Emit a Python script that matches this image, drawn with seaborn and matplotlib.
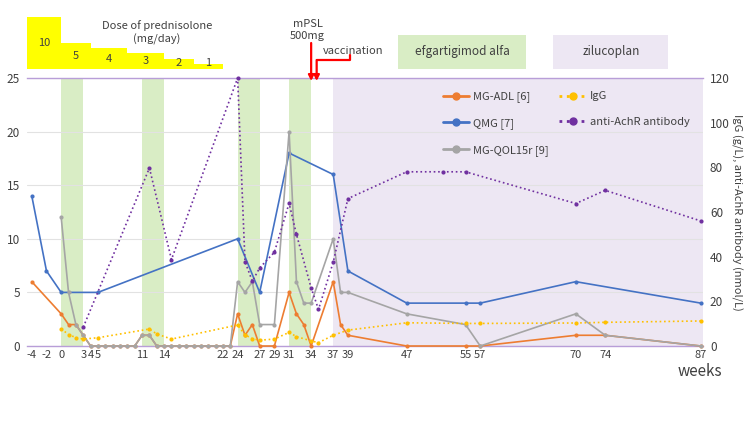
import matplotlib
matplotlib.use("Agg")
import matplotlib.pyplot as plt
from matplotlib.lines import Line2D
from matplotlib.patches import Rectangle
from matplotlib.transforms import blended_transform_factory
import seaborn as sns

# scores (left axis)
adl_weeks = [-4, 0, 1, 2, 3, 4, 5, 6, 7, 8, 9, 10, 11, 12, 13, 14, 15, 16, 17, 18, 19, 20, 21, 22, 23,
             24, 25, 26, 27, 29, 31, 32, 33, 34, 37, 38, 39, 47, 55, 57, 70, 74, 87]
adl_vals = [6, 3, 2, 2, 1, 0, 0, 0, 0, 0, 0, 0, 1, 1, 0, 0, 0, 0, 0, 0, 0, 0, 0, 0, 0,
            3, 1, 2, 0, 0, 5, 3, 2, 0, 6, 2, 1, 0, 0, 0, 1, 1, 0]

qmg_weeks = [-4, -2, 0, 5, 24, 27, 31, 37, 39, 47, 55, 57, 70, 87]
qmg_vals = [14, 7, 5, 5, 10, 5, 18, 16, 7, 4, 4, 4, 6, 4]

qol_weeks = [0, 1, 2, 3, 4, 5, 6, 7, 8, 9, 10, 11, 12, 13, 14, 15, 16, 17, 18, 19, 20, 21, 22, 23,
             24, 25, 26, 27, 29, 31, 32, 33, 34, 37, 38, 39, 47, 55, 57, 70, 74, 87]
qol_vals = [12, 5, 2, 1, 0, 0, 0, 0, 0, 0, 0, 1, 1, 0, 0, 0, 0, 0, 0, 0, 0, 0, 0, 0,
            6, 5, 6, 2, 2, 20, 6, 4, 4, 10, 5, 5, 3, 2, 0, 3, 1, 0]

# lab values (right axis)
igg_weeks = [0, 1, 2, 3, 5, 12, 13, 15, 24, 25, 26, 27, 29, 31, 32, 34, 35, 37, 39, 47, 55, 57, 70, 74, 87]
igg_vals = [7.7, 5.1, 3.8, 3.1, 3.7, 7.6, 5.4, 3.1, 9.4, 5.0, 3.3, 2.6, 3.1, 6.1, 4.2, 2.3, 1.5, 4.8, 7.1,
            10.4, 10.1, 10.1, 10.3, 10.6, 11.2]

achr_weeks = [3, 12, 15, 24, 25, 26, 27, 29, 31, 32, 34, 35, 37, 39, 47, 52, 55, 70, 74, 87]
achr_vals = [8.4, 79.7, 38.7, 120, 37.8, 29, 35, 42, 63.9, 50, 26, 16.4, 37.5, 66, 78, 78, 78, 63.8, 69.7, 56]

tick_weeks = [-4, -2, 0, 3, 4, 5, 11, 14, 22, 24, 27, 29, 31, 34, 37, 39, 47, 55, 57, 70, 74, 87]

# treatments
efgartigimod_start = [0, 11, 24, 31]
efgartigimod_len = 3
zilucoplan_start = 37
mpsl_week = 34
vaccination_week = 34.75

dose_start = [-5, 0, 4, 9, 14, 18]
dose_end = [0, 4, 9, 14, 18, 22]
dose_mg = [10, 5, 4, 3, 2, 1]

C_ADL = "#ed7d31"
C_QMG = "#4472c4"
C_QOL = "#a5a5a5"
C_IGG = "#ffc000"
C_ACHR = "#7030a0"
GREEN = "#d9edc5"
LILAC = "#ede7f3"
EDGE = "#b89ed8"
TXT = "#404040"

sns.set_theme(style="white")
plt.rcParams["font.family"] = ["Noto Sans CJK JP", "DejaVu Sans"]
plt.rcParams["axes.unicode_minus"] = False

W, H = 750, 422
fig = plt.figure(figsize=(7.5, 4.22), dpi=100)


def fx(px):
    return px / W


def fy(py):
    return 1 - py / H


ax = fig.add_axes([fx(27), fy(346), (703 - 27) / W, (346 - 78) / H])
ax2 = ax.twinx()

# shaded treatment periods
for s in efgartigimod_start:
    ax.axvspan(s, s + efgartigimod_len, color=GREEN, lw=0, zorder=0.2)
ax.axvspan(zilucoplan_start, 100, color=LILAC, lw=0, zorder=0.2)

line_kw = dict(marker="o", markersize=3, markeredgewidth=0, linewidth=1.2, clip_on=False, zorder=3)
sns.lineplot(x=adl_weeks, y=adl_vals, ax=ax, color=C_ADL, **line_kw)
sns.lineplot(x=qmg_weeks, y=qmg_vals, ax=ax, color=C_QMG, **line_kw)
sns.lineplot(x=qol_weeks, y=qol_vals, ax=ax, color=C_QOL, **line_kw)
sns.lineplot(x=igg_weeks, y=igg_vals, ax=ax2, color=C_IGG, linestyle=":", **line_kw)
sns.lineplot(x=achr_weeks, y=achr_vals, ax=ax2, color=C_ACHR, linestyle=":", **line_kw)

ax.set_xlim(-4.65, 87.3)
ax.set_ylim(0, 25)
ax2.set_ylim(0, 120)
ax.set_xticks(tick_weeks)
ax.set_yticks([0, 5, 10, 15, 20, 25])
ax2.set_yticks([0, 20, 40, 60, 80, 100, 120])
ax.set_axisbelow(True)
ax.yaxis.grid(True, color="#e2e2e2", lw=0.8)
ax.xaxis.grid(False)
ax2.grid(False)

for a in (ax, ax2):
    for sp in a.spines.values():
        sp.set_visible(False)
ax.spines["top"].set_visible(True)
ax.spines["bottom"].set_visible(True)
ax.spines["top"].set_color(EDGE)
ax.spines["bottom"].set_color(EDGE)
ax.spines["top"].set_linewidth(1)
ax.spines["bottom"].set_linewidth(1)

ax.tick_params(axis="x", length=0, labelsize=8, colors=TXT, pad=3)
ax.tick_params(axis="y", length=0, labelsize=8.5, colors=TXT, pad=5)
ax2.tick_params(axis="y", length=0, labelsize=8.5, colors=TXT, pad=5)
ax.set_xlabel("")
ax.set_ylabel("")
ax2.set_ylabel("")

handles = [
    Line2D([], [], color=C_ADL, marker="o", markersize=5, lw=2),
    Line2D([], [], color=C_QMG, marker="o", markersize=5, lw=2),
    Line2D([], [], color=C_QOL, marker="o", markersize=5, lw=2),
    Line2D([], [], color=C_IGG, marker="o", markersize=5, lw=2, ls=":"),
    Line2D([], [], color=C_ACHR, marker="o", markersize=5, lw=2, ls=":"),
]
labels = ["MG-ADL [6]", "QMG [7]", "MG-QOL15r [9]", "IgG", "anti-AchR antibody"]
leg = ax2.legend(handles, labels, ncol=2, loc="upper left", bbox_to_anchor=(0.600, 0.987),
                 frameon=False, fontsize=8, handlelength=2.35, handletextpad=0.36,
                 labelspacing=1.41, columnspacing=1.0)
for t in leg.get_texts():
    t.set_color(TXT)

fig.text(fx(737), fy(212), "IgG (g/L), anti-AchR antibody (nmol/L)", rotation=270,
         ha="center", va="center", fontsize=8, color=TXT)
fig.text(fx(700), fy(372), "weeks", ha="center", va="center", fontsize=11, color=TXT)

# prednisolone dose steps
dax = fig.add_axes([fx(27), fy(69), (703 - 27) / W, (69 - 17.3) / H], sharex=ax)
dax.bar(dose_start, dose_mg, width=[e - s for s, e in zip(dose_start, dose_end)],
        align="edge", color="#ffff00", lw=0)
for s, e, d in zip(dose_start, dose_end, dose_mg):
    dax.text((max(s, -4.65) + e) / 2, max(d / 2, 1.2), str(d), ha="center", va="center",
             fontsize=8, color=TXT)
dax.set_ylim(0, 10)
dax.axis("off")
ax.set_xlim(-4.65, 87.3)

fig.text(fx(157), fy(25.7), "Dose of prednisolone", ha="center", va="center", fontsize=8, color=TXT)
fig.text(fx(157), fy(39), "(mg/day)", ha="center", va="center", fontsize=8, color=TXT)

# treatment labels
fig.add_artist(Rectangle((fx(398.3), fy(69.3)), (525.7 - 398.3) / W, (69.3 - 35) / H,
                         transform=fig.transFigure, color=GREEN, lw=0))
fig.text(fx(462), fy(52), "efgartigimod alfa", ha="center", va="center", fontsize=8.5, color=TXT)
fig.add_artist(Rectangle((fx(553.3), fy(69.3)), (668.3 - 553.3) / W, (69.3 - 35) / H,
                         transform=fig.transFigure, color=LILAC, lw=0))
fig.text(fx(611), fy(52), "zilucoplan", ha="center", va="center", fontsize=8.5, color=TXT)

# mPSL and vaccination arrows
tr = blended_transform_factory(ax.transData, fig.transFigure)
fig.text(fx(308), fy(24), "mPSL", ha="center", va="center", fontsize=8, color=TXT)
fig.text(fx(307), fy(35.7), "500mg", ha="center", va="center", fontsize=8, color=TXT)
ax.annotate("", xy=(mpsl_week, fy(81)), xytext=(mpsl_week, fy(43)), xycoords=tr, textcoords=tr,
            arrowprops=dict(arrowstyle="-|>", color="red", lw=1.6, mutation_scale=8,
                            shrinkA=0, shrinkB=0), annotation_clip=False)
fig.text(fx(323), fy(50.7), "vaccination", ha="left", va="center", fontsize=8, color=TXT)
fig.add_artist(Line2D([fx(350), fx(350), fx(61 + vaccination_week * 7.356)],
                      [fy(55), fy(60), fy(60)], transform=fig.transFigure, color="red", lw=1.6))
ax.annotate("", xy=(vaccination_week, fy(81)), xytext=(vaccination_week, fy(60)), xycoords=tr,
            textcoords=tr, arrowprops=dict(arrowstyle="-|>", color="red", lw=1.6, mutation_scale=8,
                                           shrinkA=0, shrinkB=0), annotation_clip=False)

fig.savefig("out.png", dpi=100)
